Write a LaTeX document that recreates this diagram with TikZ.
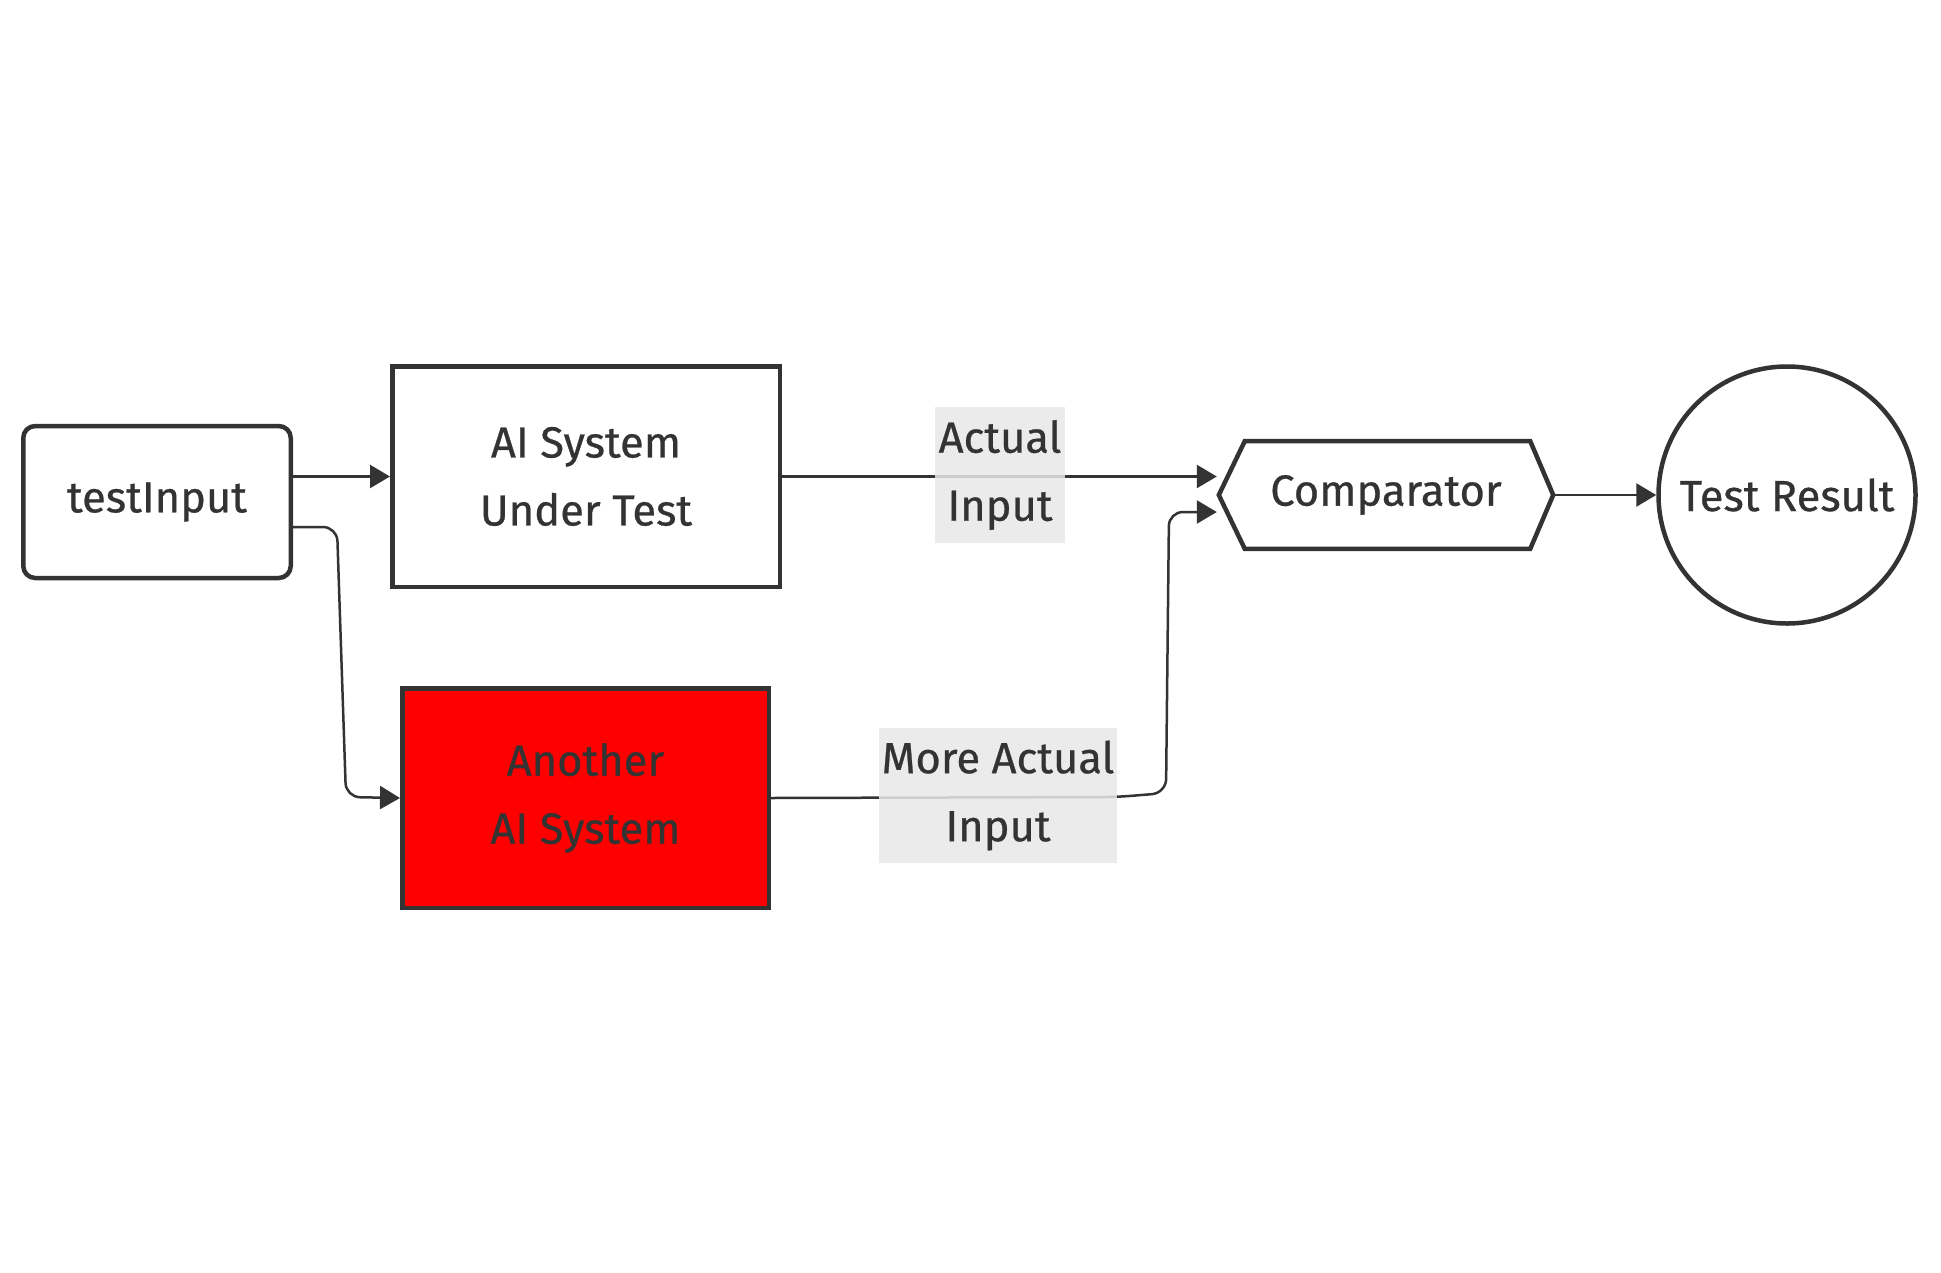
\documentclass[tikz,border=0pt]{standalone}
\usepackage{fontspec}
\setmainfont{Fira Sans}[FakeBold=0.6]
\usetikzlibrary{arrows.meta}
\definecolor{ink}{HTML}{333333}
\definecolor{lblbg}{HTML}{E8E8E8}
\definecolor{redfill}{HTML}{FF0000}
\tikzset{
  txt/.style={font=\fontsize{43.5}{68}\selectfont, text=ink, align=center},
  box/.style={txt, draw=ink, line width=4.5pt, fill=white, inner sep=0pt},
  lbl/.style={txt, fill=lblbg, fill opacity=0.85, text opacity=1, inner sep=0pt},
  arr/.style={draw=ink, line width=2.5pt, -{Triangle[length=20pt,width=23pt]}},
}
\begin{document}
\begin{tikzpicture}[x=1pt,y=-1pt]
\useasboundingbox (0,0) rectangle (1941,1272);
\node[box, rounded corners=12pt, minimum width=267.5pt, minimum height=152pt] (ti) at (157,502) {testInput};
\node[box, minimum width=387.5pt, minimum height=220.5pt] (ai) at (586,476.5) {AI System\\Under Test};
\node[box, fill=redfill, minimum width=366.5pt, minimum height=219.5pt] (ar) at (585.5,798) {Another\\AI System};
\node[txt, minimum width=338pt, minimum height=111.5pt, inner sep=0pt] (cmp) at (1386,495) {Comparator};
\draw[ink, line width=4.5pt, line join=miter] ([xshift=2pt]cmp.west) -- ([xshift=28pt,yshift=-2pt]cmp.north west) -- ([xshift=-25pt,yshift=-2pt]cmp.north east) -- ([xshift=-2pt]cmp.east) -- ([xshift=-25pt,yshift=2pt]cmp.south east) -- ([xshift=28pt,yshift=2pt]cmp.south west) -- cycle;
\node[box, circle, minimum size=257pt] (tr) at (1787,495) {Test Result};
% connectors
\draw[arr] (ti.east |- ai.west) -- (ai.west);
\draw[arr, rounded corners=14pt] (ti.east |- 0,527) -- (337,527) -- (346,797) -- (ar.west);
\draw[arr] (ai.east) -- (cmp.west |- ai.east);
\draw[arr, rounded corners=14pt] (ar.east) -- (1117,797) -- (1166,793) -- (1169,512) -- (cmp.west |- 0,512);
\draw[arr] (cmp.east) -- (tr.west);
% labels
\node[lbl, minimum width=130pt, minimum height=136pt] (l1) at (1000,475) {Actual\\Input};
\node[lbl, minimum width=238pt, minimum height=135pt] (l2) at (998,795.5) {More Actual\\Input};
\end{tikzpicture}
\end{document}
